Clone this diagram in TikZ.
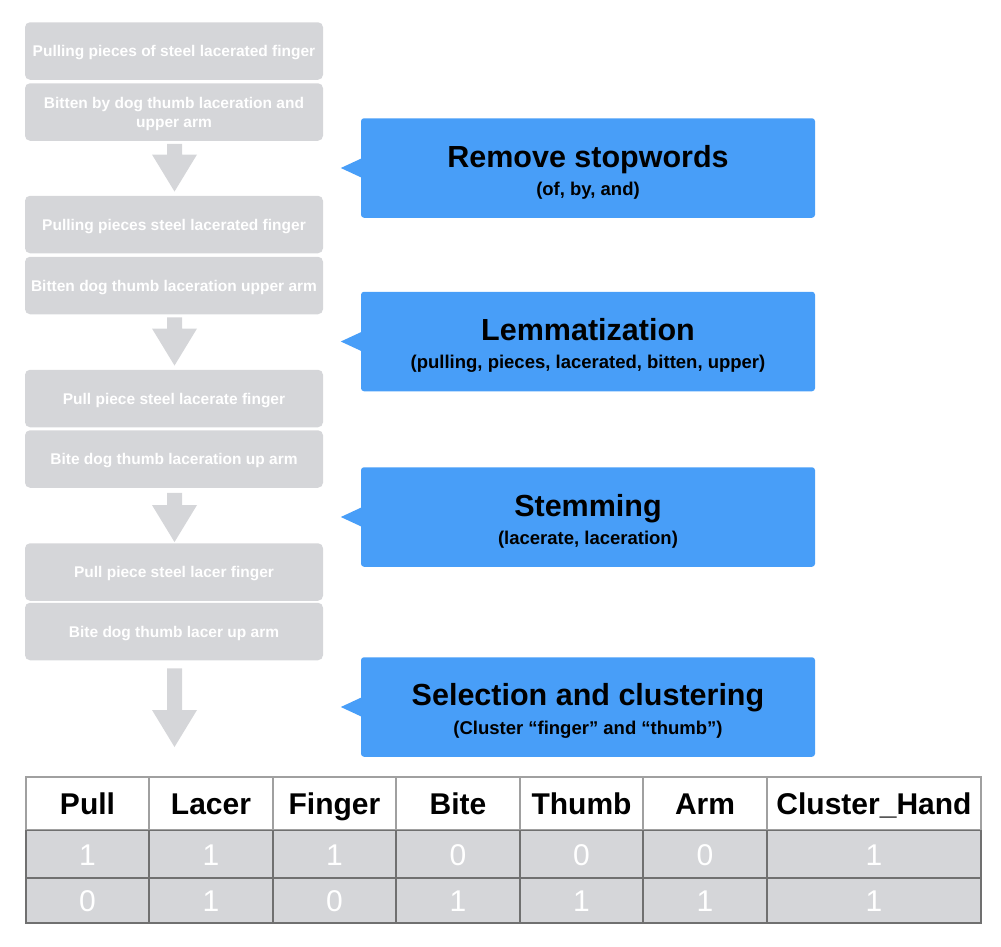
\documentclass[tikz,border=0pt]{standalone}
\usepackage{fontspec}
\setmainfont{Liberation Sans}
\usetikzlibrary{calc}
\definecolor{boxgray}{RGB}{213,214,217}
\definecolor{callblue}{RGB}{72,158,248}
\definecolor{hline}{RGB}{160,160,160}
\definecolor{rline}{RGB}{112,112,112}
\newcommand{\blkarrow}[2]{%
  \fill[boxgray] let \p1=(#1), \p2=(#2) in
    (\x1-7.5pt,\y1) -- (\x1+7.5pt,\y1) -- (\x1+7.5pt,\y2+37pt) -- (\x1+22.5pt,\y2+37pt)
    -- (\x2,\y2) -- (\x1-22.5pt,\y2+37pt) -- (\x1-7.5pt,\y2+37pt) -- cycle;}
\tikzset{
  x=1pt, y=-1pt,
  stepbox/.style={rectangle, rounded corners=5pt, fill=boxgray, minimum width=298pt,
    minimum height=57.5pt, inner sep=0pt, text=white, align=center,
    font=\bfseries\fontsize{15.5}{19}\selectfont, text height=11pt, text depth=0pt},
  steptext/.style={anchor=base, inner sep=0pt, text=white, font=\bfseries\fontsize{15.5}{19}\selectfont},
  callbox/.style={rectangle, rounded corners=3pt, fill=callblue, minimum width=454pt,
    minimum height=99.5pt, inner sep=0pt},
  calltitle/.style={anchor=base, inner sep=0pt, font=\bfseries\fontsize{30.5}{36}\selectfont},
  callsub/.style={anchor=base, inner sep=0pt, font=\bfseries\fontsize{18.5}{22}\selectfont},
  hcell/.style={rectangle, draw=hline, line width=1.1pt, fill=white, minimum height=53pt,
    inner sep=0pt, font=\bfseries\fontsize{30}{36}\selectfont, text height=22pt, text depth=0pt},
  dcell/.style={rectangle, draw=rline, line width=1.1pt, fill=boxgray, minimum height=47pt,
    inner sep=0pt, text=white, font=\fontsize{30}{36}\selectfont, text height=22pt, text depth=0pt},
}
\begin{document}
\begin{tikzpicture}
\useasboundingbox (0,0) rectangle (1001,946);
% step boxes
\node[stepbox] (b1) at (174,51) {Pulling pieces of steel lacerated finger};
\node[stepbox] (b2) at (174,112) {};
\node[steptext] (b2a) at ($(b2.center)+(0,-4)$) {Bitten by dog thumb laceration and};
\node[steptext] (b2b) at ($(b2.center)+(0,15)$) {upper arm};
\node[stepbox] (b3) at (174,224.5) {Pulling pieces steel lacerated finger};
\node[stepbox] (b4) at (174,285.5) {Bitten dog thumb laceration upper arm};
\node[stepbox] (b5) at (174,398.5) {Pull piece steel lacerate finger};
\node[stepbox] (b6) at (174,459) {Bite dog thumb laceration up arm};
\node[stepbox] (b7) at (174,572) {Pull piece steel lacer finger};
\node[stepbox] (b8) at (174,631.5) {Bite dog thumb lacer up arm};
% block arrows
\blkarrow{$(b2.south)+(0.5,3)$}{$(b3.north)+(0.5,-4)$}
\blkarrow{$(b4.south)+(0.5,3)$}{$(b5.north)+(0.5,-4)$}
\blkarrow{$(b6.south)+(0.5,5)$}{$(b7.north)+(0.5,-1)$}
\coordinate (tabletop) at (174.5,747);
\blkarrow{$(b8.south)+(0.5,8)$}{tabletop}
% callouts
\foreach \n/\cy in {1/168, 2/341.5, 3/517, 4/707}{
  \node[callbox] (c\n) at (588,\cy) {};
  \fill[callblue] ($(c\n.west)+(0.5,-9.5)$) -- ($(c\n.west)+(-20,0)$) -- ($(c\n.west)+(0.5,9.5)$) -- cycle;
}
\node[calltitle] (t1) at ($(c1.north)+(0,49)$) {Remove stopwords};
\node[callsub] (s1) at ($(c1.north)+(0,77)$) {(of, by, and)};
\node[calltitle] (t2) at ($(c2.north)+(0,49)$) {Lemmatization};
\node[callsub] (s2) at ($(c2.north)+(0,77)$) {(pulling, pieces, lacerated, bitten, upper)};
\node[calltitle] (t3) at ($(c3.north)+(0,49)$) {Stemming};
\node[callsub] (s3) at ($(c3.north)+(0,77)$) {(lacerate, laceration)};
\node[calltitle] (t4) at ($(c4.north)+(0,48)$) {Selection and clustering};
\node[callsub] (s4) at ($(c4.north)+(0,77)$) {(Cluster “finger” and “thumb”)};
% table
\node[hcell, minimum width=123pt] (h1) at (87.5,803.5) {Pull};
\node[hcell, minimum width=124pt] (h2) at (211,803.5) {Lacer};
\node[hcell, minimum width=123pt] (h3) at (334.5,803.5) {Finger};
\node[hcell, minimum width=124pt] (h4) at (458,803.5) {Bite};
\node[hcell, minimum width=123pt] (h5) at (581.5,803.5) {Thumb};
\node[hcell, minimum width=124pt] (h6) at (705,803.5) {Arm};
\node[hcell, minimum width=214pt] (h7) at (874,803.5) {Cluster\_Hand};
\node[dcell, minimum width=123pt] (r1c1) at (87.5,854) {1};
\node[dcell, minimum width=124pt] (r1c2) at (211,854) {1};
\node[dcell, minimum width=123pt] (r1c3) at (334.5,854) {1};
\node[dcell, minimum width=124pt] (r1c4) at (458,854) {0};
\node[dcell, minimum width=123pt] (r1c5) at (581.5,854) {0};
\node[dcell, minimum width=124pt] (r1c6) at (705,854) {0};
\node[dcell, minimum width=214pt] (r1c7) at (874,854) {1};
\node[dcell, minimum width=123pt, minimum height=45pt] (r2c1) at (87.5,900.5) {0};
\node[dcell, minimum width=124pt, minimum height=45pt] (r2c2) at (211,900.5) {1};
\node[dcell, minimum width=123pt, minimum height=45pt] (r2c3) at (334.5,900.5) {0};
\node[dcell, minimum width=124pt, minimum height=45pt] (r2c4) at (458,900.5) {1};
\node[dcell, minimum width=123pt, minimum height=45pt] (r2c5) at (581.5,900.5) {1};
\node[dcell, minimum width=124pt, minimum height=45pt] (r2c6) at (705,900.5) {1};
\node[dcell, minimum width=214pt, minimum height=45pt] (r2c7) at (874,900.5) {1};
\end{tikzpicture}
\end{document}
